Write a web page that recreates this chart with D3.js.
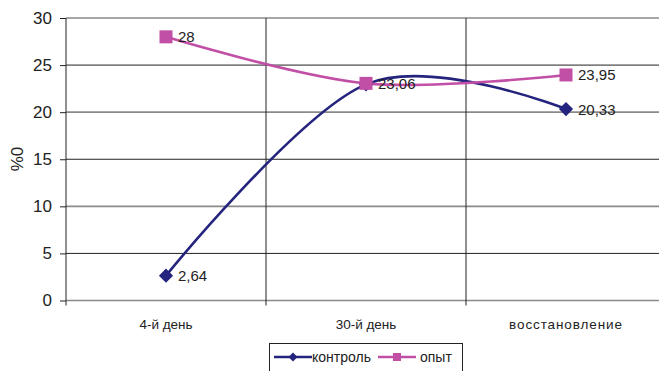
<!DOCTYPE html>
<html>
<head>
<meta charset="utf-8">
<script src="https://cdn.jsdelivr.net/npm/d3@7"></script>
<style>
  body { margin: 0; background: #fff; }
  svg { display: block; font-family: "Liberation Sans", Arial, sans-serif; }
</style>
</head>
<body>
<svg width="659" height="371"></svg>
<script>
const categories = ['4-й день', '30-й день', 'восстановление'];
const control = [2.64, 22.95, 20.33];
const experiment = [28, 23.06, 23.95];
const controlLabels = ['2,64', '', '20,33'];
const experimentLabels = ['28', '23,06', '23,95'];
const yTicks = [0, 5, 10, 15, 20, 25, 30];

const svg = d3.select('svg');
const plotLeft = 66, plotTop = 18, plotBottom = 300.5, plotRight = 666;
const navy = '#24247e';
const pink = '#c24fa6';

const x = d3.scaleBand()
	.domain(categories)
	.range([plotLeft, plotRight]);
const y = d3.scaleLinear()
	.domain([0, 30])
	.range([plotBottom, plotTop]);
const cx = i => x(categories[i]) + x.bandwidth() / 2;

// horizontal grid
svg.append('g')
	.selectAll('line')
	.data(yTicks)
	.enter()
	.append('line')
	.attr('x1', plotLeft)
	.attr('x2', plotRight)
	.attr('y1', d => y(d))
	.attr('y2', d => y(d))
	.attr('stroke', d => d % 10 == 0 ? '#8a8a8a' : '#222')
	.attr('stroke-width', d => d % 10 == 0 ? 1.6 : 1);

// vertical grid at category borders
svg.append('g')
	.selectAll('line')
	.data(categories.slice(1))
	.enter()
	.append('line')
	.attr('x1', d => x(d))
	.attr('x2', d => x(d))
	.attr('y1', plotTop)
	.attr('y2', plotBottom + 5)
	.attr('stroke', '#222')
	.attr('stroke-width', 1);

// y axis
const yAxis = d3.axisLeft(y)
	.tickValues(yTicks)
	.tickSize(6)
	.tickPadding(8);
const ya = svg.append('g')
	.attr('transform', `translate(${plotLeft},0)`)
	.call(yAxis);
ya.select('.domain').attr('stroke', '#222').attr('d', `M0,${plotTop}V${plotBottom + 5}`);
ya.selectAll('.tick line').attr('stroke', '#222');
ya.selectAll('.tick text')
	.attr('font-size', 17)
	.attr('font-family', '"Liberation Sans", Arial, sans-serif')
	.attr('fill', '#222');

// x labels
svg.append('g')
	.selectAll('text')
	.data(categories)
	.enter()
	.append('text')
	.attr('x', d => x(d) + x.bandwidth() / 2)
	.attr('y', 329)
	.attr('text-anchor', 'middle')
	.attr('font-size', 13.5)
	.attr('letter-spacing', (d, i) => i == 2 ? 0.9 : 0)
	.attr('fill', '#222')
	.text(d => d);

// y title
svg.append('text')
	.attr('transform', `translate(23,159) rotate(-90)`)
	.attr('text-anchor', 'middle')
	.attr('font-size', 17)
	.attr('fill', '#222')
	.text('%0');

const plot = svg.append('g');
const line = d3.line()
	.x((d, i) => cx(i))
	.y(d => y(d))
	.curve(d3.curveCardinal.tension(0));

plot.append('path')
	.datum(control)
	.attr('d', line)
	.attr('fill', 'none')
	.attr('stroke', navy)
	.attr('stroke-width', 2.6);
plot.append('path')
	.datum(experiment)
	.attr('d', line)
	.attr('fill', 'none')
	.attr('stroke', pink)
	.attr('stroke-width', 2.6);

plot.append('g')
	.selectAll('path')
	.data(control)
	.enter()
	.append('path')
	.attr('d', d3.symbol(d3.symbolSquare, 100)())
	.attr('transform', (d, i) => `translate(${cx(i)},${y(d)}) rotate(45)`)
	.attr('fill', navy);
plot.append('g')
	.selectAll('rect')
	.data(experiment)
	.enter()
	.append('rect')
	.attr('x', (d, i) => cx(i) - 6.5)
	.attr('y', d => y(d) - 6.5)
	.attr('width', 13)
	.attr('height', 13)
	.attr('fill', pink);

// data labels
const labelData = control.map((v, i) => ({ v, t: controlLabels[i], i }))
	.concat(experiment.map((v, i) => ({ v, t: experimentLabels[i], i })));
svg.append('g')
	.selectAll('text')
	.data(labelData.filter(d => d.t))
	.enter()
	.append('text')
	.attr('x', d => cx(d.i) + 12)
	.attr('y', d => y(d.v) + 5.5)
	.attr('font-size', 15)
	.attr('fill', '#222')
	.text(d => d.t);

// legend
const legend = svg.append('g');
legend.append('rect')
	.attr('x', 269.5)
	.attr('y', 343.5)
	.attr('width', 193)
	.attr('height', 40)
	.attr('fill', '#fff')
	.attr('stroke', '#222');
const items = [
	{ name: 'контроль', color: navy, x: 274, tx: 312 },
	{ name: 'опыт', color: pink, x: 378, tx: 420 }
];
items.forEach((it, k) => {
	legend.append('line')
		.attr('x1', it.x).attr('x2', it.x + 38)
		.attr('y1', 357).attr('y2', 357)
		.attr('stroke', it.color)
		.attr('stroke-width', 2.6);
	if (k == 0) {
		legend.append('path')
			.attr('d', d3.symbol(d3.symbolSquare, 40)())
			.attr('transform', `translate(${it.x + 19},357) rotate(45)`)
			.attr('fill', it.color);
	} else {
		legend.append('rect')
			.attr('x', it.x + 15).attr('y', 353)
			.attr('width', 8).attr('height', 8)
			.attr('fill', it.color);
	}
	legend.append('text')
		.attr('x', it.tx)
		.attr('y', 362)
		.attr('font-size', 14)
		.attr('fill', '#222')
		.text(it.name);
});
</script>
</body>
</html>
